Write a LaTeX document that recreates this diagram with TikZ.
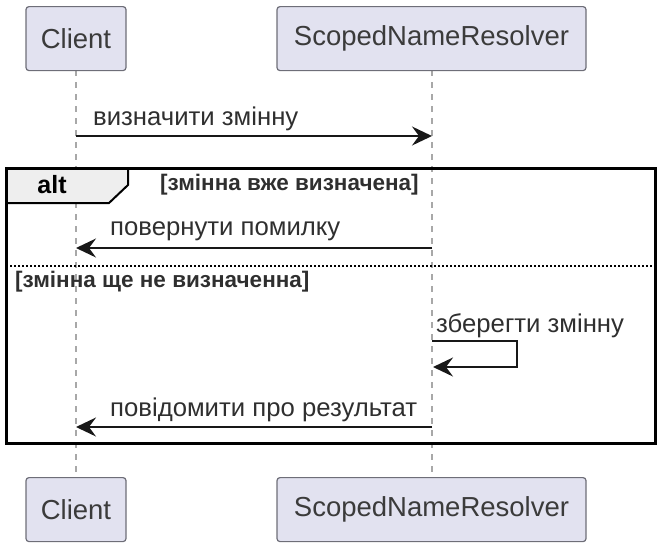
\documentclass[tikz,border=0pt]{standalone}
\usepackage{fontspec}
\setmainfont{Liberation Sans}
\usetikzlibrary{arrows.meta}
\definecolor{partfill}{HTML}{E2E2F0}
\definecolor{partdraw}{HTML}{6E6E78}
\definecolor{lifeline}{HTML}{A8A8A8}
\definecolor{tabfill}{HTML}{EEEEEE}
\definecolor{msgcol}{HTML}{181818}
\tikzset{
  participant/.style={draw=partdraw, line width=1.2pt, fill=partfill, rounded corners=3pt, minimum height=64pt, inner sep=0pt, font=\fontsize{27.5}{30}\selectfont, text=msgcol!85},
  lifelinestyle/.style={draw=lifeline, line width=1.6pt, dash pattern=on 6pt off 6pt},
  msg/.style={draw=msgcol, line width=1.8pt, -{Stealth[length=20pt,width=19pt,inset=7pt]}},
  msgtext/.style={anchor=west, inner sep=0pt, font=\fontsize{25.7}{29}\selectfont, text=msgcol!90},
  guardtext/.style={anchor=west, inner sep=0pt, font=\bfseries\fontsize{22.5}{26}\selectfont, text=msgcol!90},
}
\begin{document}
\begin{tikzpicture}[x=1pt,y=-1pt]
\useasboundingbox (0,0) rectangle (660,542);
% lifelines
\coordinate (cltop) at (76,70);
\coordinate (clbot) at (76,477);
\coordinate (sntop) at (432,70);
\coordinate (snbot) at (432,477);
\draw[lifelinestyle] (cltop) -- (clbot);
\draw[lifelinestyle] (sntop) -- (snbot);
% participants
\node[participant, minimum width=100pt, anchor=north] (c1) at (76,6) {Client};
\node[participant, minimum width=309pt, anchor=north] (s1) at (431.5,6) {ScopedNameResolver};
\node[participant, minimum width=100pt, anchor=north] (c2) at (76,477) {Client};
\node[participant, minimum width=309pt, anchor=north] (s2) at (431.5,477) {ScopedNameResolver};
% message 1
\coordinate (m1a) at (76,136);
\coordinate (m1b) at (432,136);
\draw[msg] (m1a) -- (m1b);
\node[msgtext] (t1) at (93,119) {визначити змінну};
% alt frame
\coordinate (fa) at (6,168);
\coordinate (fb) at (655,443);
\draw[fill=tabfill, line width=2pt] (6,168) -- (128,168) -- (128,185) -- (109,203) -- (6,203) -- cycle;
\node[anchor=center, inner sep=0pt, font=\bfseries\fontsize{25}{28}\selectfont] (alt) at (52,185) {alt};
\draw[line width=3pt] (fa) rectangle (fb);
\node[guardtext] (g1) at (160,185) {[змінна вже визначена]};
% message 2
\coordinate (m2a) at (432,248);
\coordinate (m2b) at (76,248);
\draw[msg] (m2a) -- (m2b);
\node[msgtext] (t2) at (110,231) {повернути помилку};
% separator
\coordinate (sa) at (6,266);
\coordinate (sb) at (655,266);
\draw[line width=1.4pt, dash pattern=on 2pt off 2pt] (sa) -- (sb);
\node[guardtext] (g2) at (15,282) {[змінна ще не визначенна]};
% self message
\coordinate (s0) at (432,341);
\coordinate (s1c) at (517,341);
\coordinate (s2c) at (517,367);
\coordinate (s3) at (433,367);
\draw[msg] (s0) -- (s1c) -- (s2c) -- (s3);
\node[msgtext] (t3) at (436,326) {зберегти змінну};
% message 4
\coordinate (m4a) at (432,427);
\coordinate (m4b) at (76,427);
\draw[msg] (m4a) -- (m4b);
\node[msgtext] (t4) at (110,410) {повідомити про результат};
\end{tikzpicture}
\end{document}
